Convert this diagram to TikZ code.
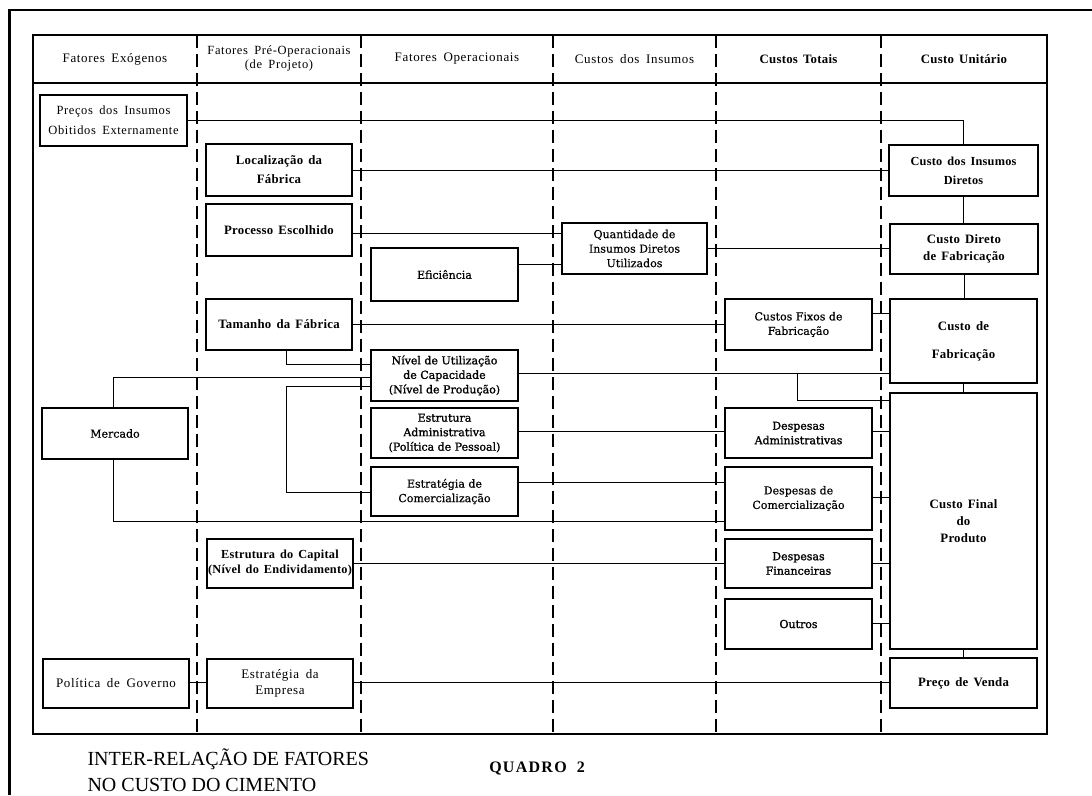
\documentclass[tikz,border=0pt]{standalone}
\usepackage{fontspec}
\setmainfont{Liberation Serif}
\newfontfamily\tms{Liberation Serif}[LetterSpace=5,WordSpace=1.7]
\newfontfamily\tmsb{Liberation Serif}[LetterSpace=2,WordSpace=1.5]
\newfontfamily\cen{DejaVu Serif}[FakeBold=0.6]
\newfontfamily\cenb{DejaVu Serif}[FakeBold=1.4]
\newfontfamily\qfont{Liberation Serif}[LetterSpace=8]
\tikzset{
  bx/.style={draw, line width=1.4pt, minimum width=147pt, minimum height=50pt, inner sep=1pt, align=center},
  tr/.style={font=\tms\fontsize{13}{15.5}\selectfont},
  tb/.style={font=\tmsb\bfseries\fontsize{12.8}{15.5}\selectfont},
  ce/.style={font=\cen\fontsize{11}{14.5}\selectfont},
  cb/.style={font=\cenb\fontsize{11}{14.5}\selectfont},
  link/.style={line width=1pt},
  divider/.style={line width=1.5pt, dash pattern=on 13pt off 6pt},
}
\begin{document}
\begin{tikzpicture}[x=1pt,y=-1pt]
\useasboundingbox (0,0) rectangle (1092,795);
% outer frame
\draw[line width=2pt] (8,10) -- (1092,10);
\draw[line width=2.5pt] (9.5,9) -- (9.5,795);
% table
\draw[line width=1.4pt] (33,35) rectangle (1047,734);
\draw[line width=1.2pt] (33,83) -- (1047,83);
\foreach \x in {197,361,553,716,881} \draw[divider] (\x,35) -- (\x,734);
% headers
\node[tr] (h1) at (115,59) {Fatores Exógenos};
\node[align=center,font=\tms\fontsize{12.5}{14}\selectfont] (h2) at (279,58) {Fatores Pré-Operacionais\\(de Projeto)};
\node[tr] (h3) at (457,59) {Fatores Operacionais};
\node[tr] (h4) at (634.5,59) {Custos dos Insumos};
\node[tb] (h5) at (798.5,59) {Custos Totais};
\node[tb] (h6) at (964,59) {Custo Unitário};
% boxes
\node[bx,minimum height=51pt,font=\tms\fontsize{12.5}{20}\selectfont] (preco) at (113.5,120.5) {Preços dos Insumos\\Obitidos Externamente};
\node[bx,tb,minimum width=146pt,minimum height=52pt,font=\tmsb\bfseries\fontsize{12.8}{19}\selectfont] (local) at (279,170) {Localização da\\Fábrica};
\node[bx,tb,minimum width=146pt,minimum height=52pt] (proc) at (279,230) {Processo Escolhido};
\node[bx,ce,minimum height=53pt] (efic) at (444.5,274.5) {Eficiência};
\node[bx,tb,minimum width=146pt,minimum height=51pt] (tam) at (279,324.5) {Tamanho da Fábrica};
\node[bx,cb,minimum height=51pt] (nivel) at (444.5,375.5) {Nível de Utilização\\de Capacidade\\(Nível de Produção)};
\node[bx,ce,minimum width=146pt,minimum height=51pt] (merc) at (115,433.5) {Mercado};
\node[bx,cb] (estadm) at (444.5,433) {Estrutura\\Administrativa\\(Política de Pessoal)};
\node[bx,ce,minimum height=49pt] (estcom) at (444.5,491.5) {Estratégia de\\Comercialização};
\node[bx,minimum width=146pt,minimum height=49pt,font=\tmsb\bfseries\fontsize{12.3}{15}\selectfont] (capital) at (280,563.5) {Estrutura do Capital\\(Nível do Endividamento)};
\node[bx,tr,minimum width=146pt,minimum height=49pt] (polgov) at (116,683.5) {Política de Governo};
\node[bx,tr,minimum width=146pt,minimum height=49pt] (estemp) at (280,683.5) {Estratégia da\\Empresa};
\node[bx,ce,minimum width=145pt,minimum height=51pt] (quant) at (634.5,248.5) {Quantidade de\\Insumos Diretos\\Utilizados};
\node[bx,ce,minimum height=51pt] (fixos) at (798.5,324.5) {Custos Fixos de\\Fabricação};
\node[bx,cb] (dadm) at (798.5,433) {Despesas\\Administrativas};
\node[bx,ce,minimum height=63pt] (dcom) at (798.5,498.5) {Despesas de\\Comercialização};
\node[bx,cb,minimum height=49pt] (dfin) at (798.5,563.5) {Despesas\\Financeiras};
\node[bx,cb] (outros) at (798.5,624) {Outros};
\node[bx,minimum width=149pt,minimum height=51pt,font=\tmsb\bfseries\fontsize{12.3}{19}\selectfont] (cins) at (963.5,170.5) {Custo dos Insumos\\Diretos};
\node[bx,minimum width=148pt,font=\tmsb\bfseries\fontsize{12.8}{16.5}\selectfont] (cdir) at (964,249) {Custo Direto\\de Fabricação};
\node[bx,minimum height=84pt,font=\tmsb\bfseries\fontsize{12.8}{28}\selectfont] (cfab) at (963.5,341) {Custo de\\Fabricação};
\node[bx,minimum height=256pt,font=\tmsb\bfseries\fontsize{12.8}{17}\selectfont] (cfinal) at (963.5,521) {Custo Final\\do\\Produto};
\node[bx,tb] (pvenda) at (963.5,683) {Preço de Venda};
% connectors
\draw[link] (preco.east) -| (cins.north);
\draw[link] (local.east) -- (local.east -| cins.west);
\draw[link] (proc.east |- 0,233) -- (quant.west |- 0,233);
\draw[link] (efic.east |- 0,264) -- (quant.west |- 0,264);
\draw[link] (quant.east |- 0,248) -- (cdir.west |- 0,248);
\draw[link] (cins.south) -- (cins.south |- cdir.north);
\draw[link] (cdir.south) -- (cdir.south |- cfab.north);
\draw[link] (tam.east |- 0,324) -- (fixos.west |- 0,324);
\draw[link] (fixos.east |- 0,313) -- (cfab.west |- 0,313);
\draw[link] (tam.south -| 286,0) |- (nivel.west |- 0,364);
\draw[link] (merc.north -| 113,0) |- (nivel.west |- 0,377);
\draw[link] (nivel.west |- 0,386) -| (286,492) -- (estcom.west |- 0,492);
\draw[link] (nivel.east |- 0,373) -- (cfab.west |- 0,373);
\coordinate (tee) at (797,373);
\draw[link] (tee) |- (cfinal.west |- 0,400);
\draw[link] (merc.south -| 113,0) |- (dcom.west |- 0,521);
\draw[link] (estadm.east |- 0,431) -- (dadm.west |- 0,431);
\draw[link] (dadm.east |- 0,431) -- (cfinal.west |- 0,431);
\draw[link] (estcom.east |- 0,482) -- (dcom.west |- 0,482);
\draw[link] (dcom.east |- 0,497) -- (cfinal.west |- 0,497);
\draw[link] (capital.east |- 0,563) -- (dfin.west |- 0,563);
\draw[link] (dfin.east |- 0,563) -- (cfinal.west |- 0,563);
\draw[link] (outros.east |- 0,623) -- (cfinal.west |- 0,623);
\draw[link] (cfab.south) -- (cfab.south |- cfinal.north);
\draw[link] (cfinal.south) -- (cfinal.south |- pvenda.north);
\draw[link] (polgov.east |- 0,682) -- (estemp.west |- 0,682);
\draw[link] (estemp.east |- 0,682) -- (pvenda.west |- 0,682);
% title
\node[anchor=west, align=left, font=\fontsize{20}{26}\selectfont] (title) at (84,770) {INTER-RELAÇÃO DE FATORES\\NO CUSTO DO CIMENTO};
\node[font=\qfont\bfseries\fontsize{16}{18}\selectfont] (quadro) at (537,768) {QUADRO\hspace{10pt}2};
\end{tikzpicture}
\end{document}
